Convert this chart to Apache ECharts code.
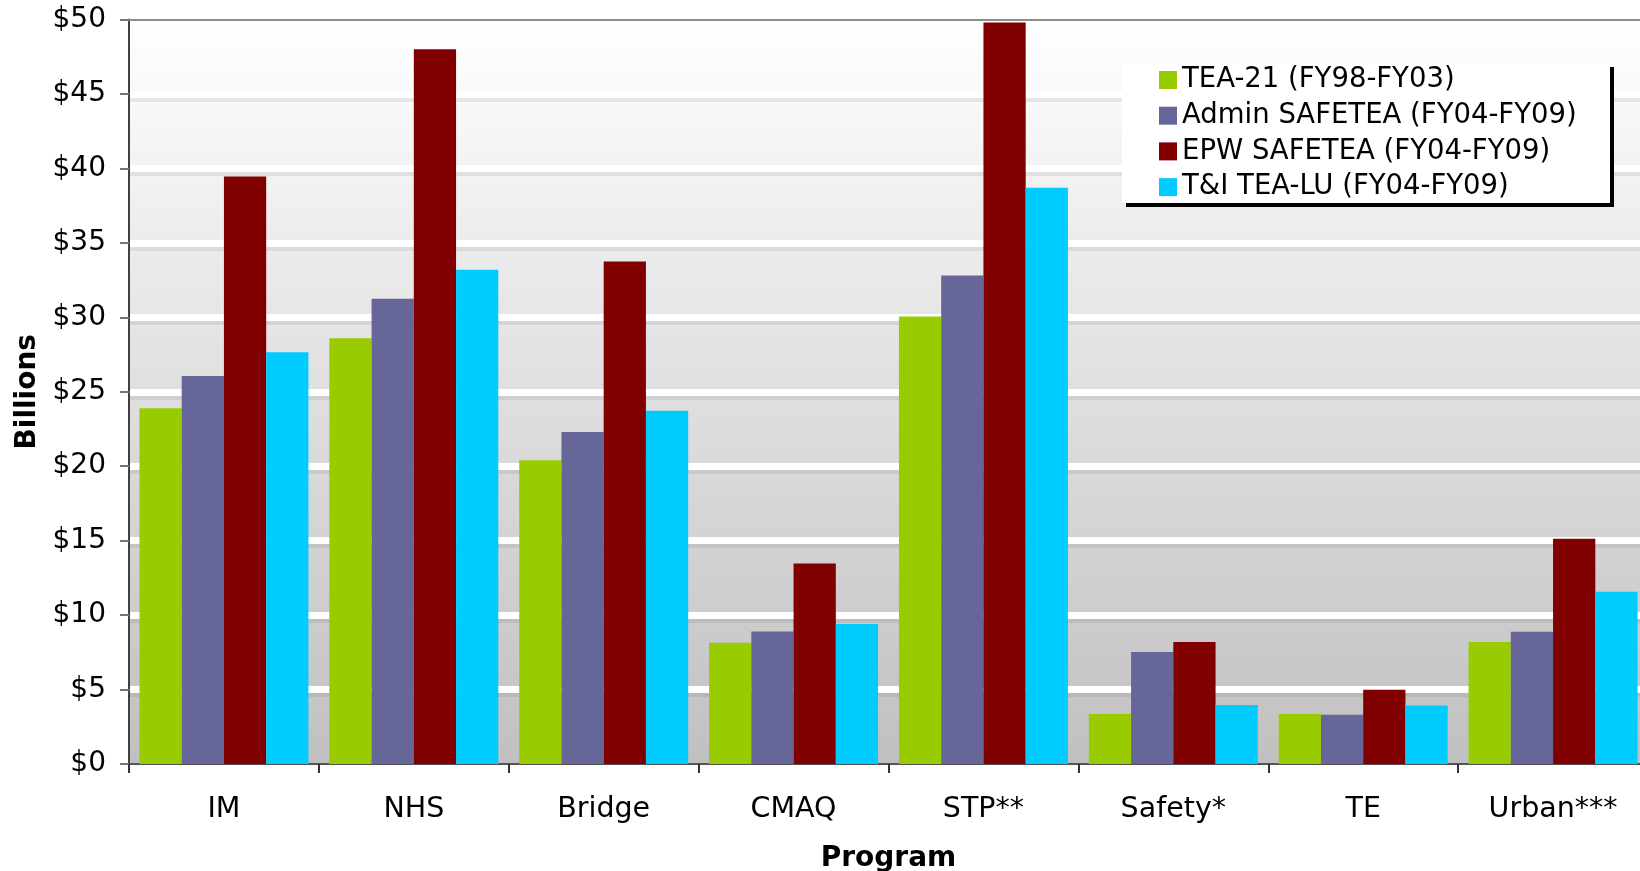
<!DOCTYPE html>
<html>
<head>
<meta charset="utf-8">
<script src="https://cdn.jsdelivr.net/npm/echarts@6/dist/echarts.min.js"></script>
<style>
html,body{margin:0;padding:0;background:#fff;}
#chart{width:1640px;height:871px;}
</style>
</head>
<body>
<div id="chart"></div>
<script>
const categories = ['IM', 'NHS', 'Bridge', 'CMAQ', 'STP**', 'Safety*', 'TE', 'Urban***'];
const seriesNames = ['TEA-21 (FY98-FY03)', 'Admin SAFETEA (FY04-FY09)', 'EPW SAFETEA (FY04-FY09)', 'T&I TEA-LU (FY04-FY09)'];
const tea21 = [23.9, 28.6, 20.4, 8.15, 30.05, 3.36, 3.36, 8.2];
const adminSafetea = [26.05, 31.25, 22.3, 8.9, 32.8, 7.52, 3.3, 8.88];
const epwSafetea = [39.45, 48.0, 33.75, 13.47, 49.8, 8.2, 4.98, 15.12];
const tiTealu = [27.65, 33.2, 23.72, 9.4, 38.7, 3.97, 3.93, 11.56];
const colors = ['#99CC00', '#666699', '#800000', '#00CCFF'];
const font = 'DejaVu Sans';

const chart = echarts.init(document.getElementById('chart'), null, {renderer: 'canvas'});
const dataSets = [tea21, adminSafetea, epwSafetea, tiTealu];

const splitColors = ['rgba(0,0,0,0)', '#fff', '#fff', '#fff', '#fff', '#fff', '#fff', '#fff', '#fff', '#fff', 'rgba(0,0,0,0)'];

chart.setOption({
  animation: false,
  backgroundColor: '#fff',
  textStyle: {fontFamily: font},
  grid: {
    left: 129, top: 19.5, width: 1519, bottom: 107,
    containLabel: false,
    outerBoundsMode: 'none',
    show: true,
    borderWidth: 0,
    backgroundColor: new echarts.graphic.LinearGradient(0, 0, 0, 1, [
      {offset: 0, color: '#ffffff'},
      {offset: 1, color: '#c0c0c0'}
    ])
  },
  graphic: [{
    type: 'rect',
    left: 1122, top: 63,
    shape: {width: 488, height: 140},
    style: {fill: '#fff', shadowColor: '#000', shadowOffsetX: 4, shadowOffsetY: 4, shadowBlur: 0},
    z: 50
  }],
  legend: {
    orient: 'vertical',
    left: 1159, top: 65,
    padding: 0,
    itemWidth: 18, itemHeight: 18,
    itemGap: 5.7,
    icon: 'rect',
    z: 60,
    textStyle: {fontFamily: font, fontSize: 27.5, color: '#000', lineHeight: 30},
    data: seriesNames
  },
  xAxis: [{
    type: 'category',
    data: categories,
    axisLine: {show: true, lineStyle: {color: '#555', width: 2}},
    axisTick: {show: true, length: 9, lineStyle: {color: '#333', width: 2}},
    axisLabel: {fontFamily: font, fontSize: 28.5, color: '#000', margin: 31},
    splitLine: {show: false},
    name: 'Program',
    nameLocation: 'middle',
    nameGap: 81,
    nameTextStyle: {fontFamily: font, fontSize: 28, fontWeight: 'bold', color: '#000'}
  }, {
    type: 'category',
    data: categories,
    position: 'top',
    axisLine: {show: true, lineStyle: {color: '#8c8c8c', width: 2}},
    axisTick: {show: false},
    axisLabel: {show: false},
    splitLine: {show: false}
  }],
  yAxis: {
    type: 'value',
    min: 0, max: 50, interval: 5,
    axisLine: {show: true, lineStyle: {color: '#404040', width: 2}},
    axisTick: {show: true, length: 9, lineStyle: {color: '#777', width: 2}},
    axisLabel: {fontFamily: font, fontSize: 28, color: '#000', margin: 23, formatter: '${value}'},
    splitLine: {show: true, lineStyle: {color: splitColors, width: 7, shadowColor: 'rgba(0,0,0,0.07)', shadowOffsetY: 4, shadowBlur: 0}},
    name: 'Billions',
    nameLocation: 'middle',
    nameGap: 87,
    nameRotate: 90,
    nameTextStyle: {fontFamily: font, fontSize: 28, fontWeight: 'bold', color: '#000'}
  },
  series: seriesNames.map((n, i) => ({
    name: n,
    type: 'bar',
    xAxisIndex: 0,
    data: dataSets[i],
    barGap: '0%',
    barCategoryGap: '11%',
    itemStyle: {color: colors[i], borderWidth: 0}
  }))
});
</script>
</body>
</html>
